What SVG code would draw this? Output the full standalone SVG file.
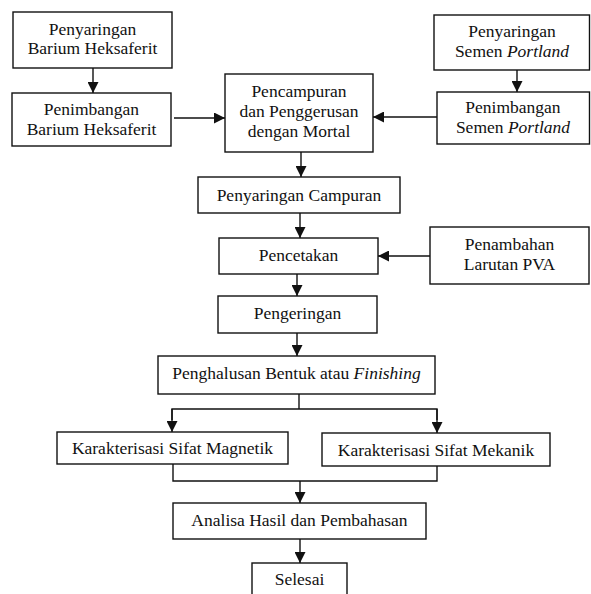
<svg xmlns="http://www.w3.org/2000/svg" width="591" height="594" viewBox="0 0 591 594">
<style>
.box{fill:#fff;stroke:#111;stroke-width:1.4}
text{font-family:'Liberation Serif','Times New Roman',Times,serif;font-size:17.5px;fill:#111;text-anchor:middle}
.c{fill:none;stroke:#111;stroke-width:1.4}
</style>
<defs>
<marker id="ah" viewBox="0 0 10 10" refX="10" refY="5" markerWidth="11" markerHeight="11" markerUnits="userSpaceOnUse" orient="auto">
<path d="M0,0 L10,5 L0,10 z" fill="#111"/>
</marker>
</defs>
<rect width="591" height="594" fill="#fff"/>
<g id="connectors">
<line class="c" x1="93" y1="68" x2="93" y2="93" marker-end="url(#ah)"/>
<line class="c" x1="174" y1="118" x2="225" y2="118" marker-end="url(#ah)"/>
<line class="c" x1="517" y1="70" x2="517" y2="92" marker-end="url(#ah)"/>
<line class="c" x1="437" y1="117" x2="373" y2="117" marker-end="url(#ah)"/>
<line class="c" x1="301" y1="152" x2="301" y2="177" marker-end="url(#ah)"/>
<line class="c" x1="300" y1="213" x2="300" y2="238" marker-end="url(#ah)"/>
<line class="c" x1="430" y1="256" x2="378" y2="256" marker-end="url(#ah)"/>
<line class="c" x1="297" y1="274" x2="297" y2="296" marker-end="url(#ah)"/>
<line class="c" x1="297" y1="333" x2="297" y2="356" marker-end="url(#ah)"/>
<polyline class="c" points="299,394 299,409"/>
<polyline class="c" points="172,420 172,409 437,409 437,420"/>
<line class="c" x1="172" y1="409" x2="172" y2="432" marker-end="url(#ah)"/>
<line class="c" x1="437" y1="409" x2="437" y2="433" marker-end="url(#ah)"/>
<polyline class="c" points="173,464 173,481 437,481 437,466"/>
<line class="c" x1="300" y1="481" x2="300" y2="503" marker-end="url(#ah)"/>
<line class="c" x1="300" y1="539" x2="300" y2="563" marker-end="url(#ah)"/>
</g>
<g id="n1"><rect class="box" x="13" y="12" width="159" height="56"/><text x="92.5" y="34.5">Penyaringan</text><text x="92.5" y="54">Barium Heksaferit</text></g>
<g id="n2"><rect class="box" x="12" y="93" width="159" height="53"/><text x="91.5" y="115">Penimbangan</text><text x="91.5" y="134.5">Barium Heksaferit</text></g>
<g id="n3"><rect class="box" x="225" y="74" width="148" height="78"/><text x="299" y="97">Pencampuran</text><text x="299" y="117">dan Penggerusan</text><text x="299" y="137">dengan Mortal</text></g>
<g id="n4"><rect class="box" x="434" y="15" width="155.5" height="55"/><text x="512" y="37">Penyaringan</text><text x="512" y="57">Semen <tspan font-style="italic">Portland</tspan></text></g>
<g id="n5"><rect class="box" x="437" y="92" width="152.5" height="52"/><text x="513" y="113">Penimbangan</text><text x="513" y="133">Semen <tspan font-style="italic">Portland</tspan></text></g>
<g id="n6"><rect class="box" x="198" y="177" width="202" height="36"/><text x="299" y="200.5">Penyaringan Campuran</text></g>
<g id="n7"><rect class="box" x="219" y="238" width="159" height="36"/><text x="298.5" y="261">Pencetakan</text></g>
<g id="n8"><rect class="box" x="430" y="227" width="159" height="57"/><text x="509.5" y="249.5">Penambahan</text><text x="509.5" y="270">Larutan PVA</text></g>
<g id="n9"><rect class="box" x="218" y="296" width="159" height="37"/><text x="297.5" y="319">Pengeringan</text></g>
<g id="n10"><rect class="box" x="158" y="356" width="277" height="38"/><text x="296.5" y="379">Penghalusan Bentuk atau <tspan font-style="italic">Finishing</tspan></text></g>
<g id="n11"><rect class="box" x="57" y="432" width="231" height="32"/><text x="172.5" y="454">Karakterisasi Sifat Magnetik</text></g>
<g id="n12"><rect class="box" x="322" y="433" width="228" height="33"/><text x="436" y="455.5">Karakterisasi Sifat Mekanik</text></g>
<g id="n13"><rect class="box" x="173" y="503" width="253" height="36"/><text x="299.5" y="526">Analisa Hasil dan Pembahasan</text></g>
<g id="n14"><rect class="box" x="252" y="563" width="95" height="40"/><text x="299.5" y="585">Selesai</text></g>
</svg>
